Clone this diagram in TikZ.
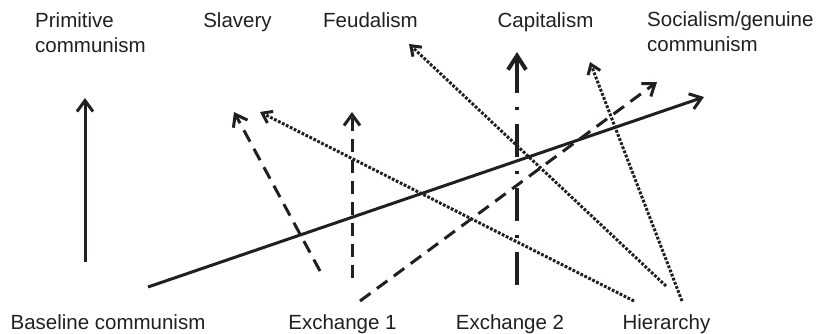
\documentclass[tikz,border=0pt]{standalone}
\usepackage{fontspec}
\setmainfont{Liberation Sans}
\usetikzlibrary{arrows.meta}
\definecolor{ink}{HTML}{231F20}
\begin{document}
\begin{tikzpicture}[x=1pt,y=-1pt,
  lbl/.style={inner sep=0pt, font=\fontsize{20.5}{25}\selectfont, text=ink},
  arr/.style={draw=ink, line width=3pt, -{Straight Barb[length=11pt,width=16pt]}},
  dashline/.style={arr, dash pattern=on 13pt off 8pt},
  dotline/.style={draw=ink, line width=3pt, dash pattern=on 2.8pt off 1.6pt, -{Straight Barb[length=9pt,width=13pt]}},
  dashdotline/.style={draw=ink, line width=4pt, dash pattern=on 33pt off 14pt on 3pt off 14pt, -{Straight Barb[length=14pt,width=18pt]}}
]
\useasboundingbox (0,0) rectangle (823,334);
% labels
\node[lbl, anchor=base west, align=left] (prim) at (35,53) {Primitive\\communism};
\node[lbl, anchor=base] (slav) at (237.5,28) {Slavery};
\node[lbl, anchor=base] (feud) at (370.5,28) {Feudalism};
\node[lbl, anchor=base] (capi) at (545.5,28) {Capitalism};
\node[lbl, anchor=base west, align=left] (soci) at (647,52) {Socialism/genuine\\communism};
\node[lbl, anchor=base] (base) at (108,330) {Baseline communism};
\node[lbl, anchor=base] (exa) at (342.5,330) {Exchange 1};
\node[lbl, anchor=base] (exb) at (510,330) {Exchange 2};
\node[lbl, anchor=base] (hier) at (666.5,330) {Hierarchy};
% end points
\coordinate (p0) at (85,262);  \coordinate (p1) at (85,98);
\coordinate (b0) at (148,287); \coordinate (b1) at (704,97);
\coordinate (s0) at (320,271); \coordinate (s1) at (234,112);
\coordinate (f0) at (352,278); \coordinate (f1) at (352,112);
\coordinate (e0) at (360,301); \coordinate (e1) at (657,82);
\coordinate (c0) at (517,285); \coordinate (c1) at (517,52);
\coordinate (h0) at (634,301); \coordinate (h1) at (260,112);
\coordinate (h2) at (666,286); \coordinate (h3) at (409,44);
\coordinate (h4) at (682,301); \coordinate (h5) at (590,62);
% connectors
\draw[arr] (p0) -- (p1);
\draw[arr] (b0) -- (b1);
\draw[dashline] (s0) -- (s1);
\draw[dashline] (f0) -- (f1);
\draw[dashline] (e0) -- (e1);
\draw[dashdotline] (c0) -- (c1);
\draw[dotline] (h0) -- (h1);
\draw[dotline] (h2) -- (h3);
\draw[dotline] (h4) -- (h5);
\end{tikzpicture}
\end{document}
